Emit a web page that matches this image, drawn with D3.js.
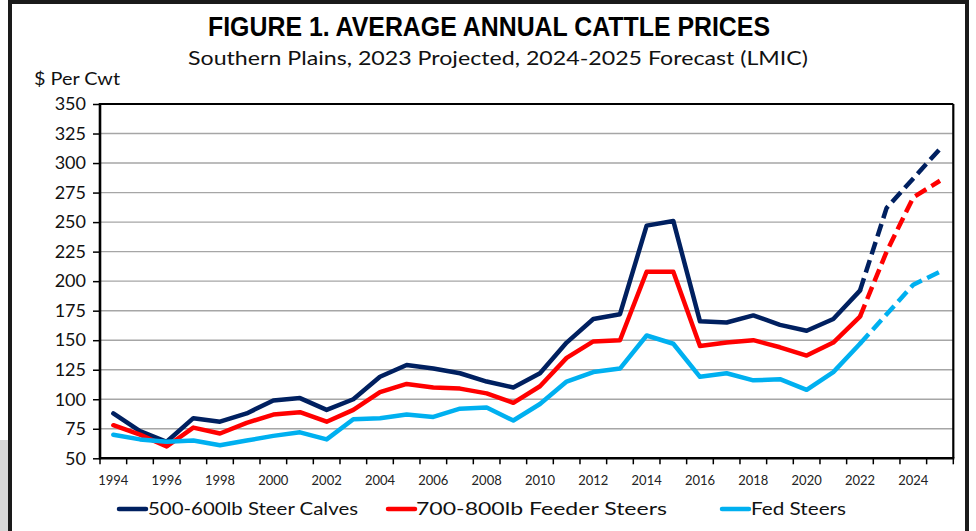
<!DOCTYPE html>
<html>
<head>
<meta charset="utf-8">
<script src="https://cdn.jsdelivr.net/npm/d3@7"></script>
<style>
  html, body { margin: 0; padding: 0; background: #ffffff; }
  svg { display: block; }
</style>
</head>
<body>
<svg id="chart" width="976" height="531"></svg>
<script>
// ---- Data ----
const years = d3.range(1994, 2026);
const steerCalves = [88, 73, 64, 84, 81, 88, 99, 101, 91, 100, 119, 129, 126, 122, 115, 110,
  122, 148, 168, 172, 247, 251, 166, 165, 171, 163, 158, 168, 192, 262, 287, 312];
const feederSteers = [78, 70, 60, 76, 71, 80, 87, 89, 81, 91, 106, 113, 110, 109, 105, 97,
  111, 135, 149, 150, 208, 208, 145, 148, 150, 144, 137, 148, 170, 225, 271, 285];
const fedSteers = [70, 66, 64, 65, 61, 65, 69, 72, 66, 83, 84, 87, 85, 92, 93, 82,
  96, 115, 123, 126, 154, 147, 119, 122, 116, 117, 108, 123, 147, 172, 197, 208];
const lastActualYear = 2022;
const yTicks = [50, 75, 100, 125, 150, 175, 200, 225, 250, 275, 300, 325, 350];
const xLabelYears = years.filter(y => y % 2 === 0);

const seriesNames = ["500-600lb Steer Calves", "700-800lb Feeder Steers", "Fed Steers"];
const seriesValues = [steerCalves, feederSteers, fedSteers];
const seriesColors = ["#002060", "#FF0000", "#00B0F0"];

const titleText = "FIGURE 1. AVERAGE ANNUAL CATTLE PRICES";
const subtitleText = "Southern Plains, 2023 Projected, 2024-2025 Forecast (LMIC)";
const yAxisTitle = "$ Per Cwt";

// ---- Layout ----
const svg = d3.select("#chart");
const plot = { left: 100, right: 953.3, top: 104, bottom: 458.3 };
const font = "Lato, 'Open Sans', sans-serif";

// screenshot frame artefacts
svg.append("rect").attr("x", 0).attr("y", 440).attr("width", 9).attr("height", 91).attr("fill", "#d8d8d8");
svg.append("path")
  .attr("d", "M10,531 V2 H967 V531")
  .attr("fill", "none").attr("stroke", "#1a1a1a").attr("stroke-width", 4);

const x = d3.scaleBand().domain(years).range([plot.left, plot.right]).padding(0);
const y = d3.scaleLinear().domain([50, 350]).range([plot.bottom, plot.top]);

// gridlines
svg.append("g").selectAll("line")
  .data(yTicks.filter(t => t > 50 && t < 350))
  .join("line")
  .attr("x1", plot.left).attr("x2", plot.right)
  .attr("y1", d => y(d)).attr("y2", d => y(d))
  .attr("stroke", "#a6a6a6").attr("stroke-width", 1.4);

// Y axis
const yAxis = svg.append("g")
  .attr("transform", `translate(${plot.left},0)`)
  .call(d3.axisLeft(y).tickValues(yTicks).tickSize(7).tickPadding(7).tickSizeOuter(0));
yAxis.select(".domain").remove();
yAxis.selectAll(".tick line").attr("stroke", "#000").attr("stroke-width", 1.5);
yAxis.selectAll(".tick text")
  .attr("font-family", font).attr("font-size", 18).attr("fill", "#111");

// X axis: ticks at category boundaries
const boundaries = years.map(d => x(d)).concat([plot.right]);
svg.append("g").selectAll("line")
  .data(boundaries)
  .join("line")
  .attr("x1", d => d).attr("x2", d => d)
  .attr("y1", plot.bottom).attr("y2", plot.bottom + 6)
  .attr("stroke", "#000").attr("stroke-width", 1.5);

const xAxis = svg.append("g")
  .attr("transform", `translate(0,${plot.bottom})`)
  .call(d3.axisBottom(x).tickValues(xLabelYears).tickSize(0).tickPadding(17).tickSizeOuter(0));
xAxis.select(".domain").remove();
xAxis.selectAll(".tick text")
  .attr("font-family", font).attr("font-size", 13).attr("fill", "#222");

// plot border
svg.append("line").attr("x1", plot.left).attr("x2", plot.right).attr("y1", plot.top).attr("y2", plot.top)
  .attr("stroke", "#000").attr("stroke-width", 2);
svg.append("line").attr("x1", plot.right).attr("x2", plot.right).attr("y1", plot.top).attr("y2", plot.bottom)
  .attr("stroke", "#000").attr("stroke-width", 2.2);
svg.append("line").attr("x1", plot.left).attr("x2", plot.left).attr("y1", plot.top - 1).attr("y2", plot.bottom + 1)
  .attr("stroke", "#000").attr("stroke-width", 2.6);
svg.append("line").attr("x1", plot.left - 1).attr("x2", plot.right + 1).attr("y1", plot.bottom).attr("y2", plot.bottom)
  .attr("stroke", "#000").attr("stroke-width", 2.6);

// Lines
const lineGen = d3.line()
  .x(d => x(d.year) + x.bandwidth() / 2)
  .y(d => y(d.value));

seriesValues.forEach((vals, i) => {
  const pts = years.map((yr, j) => ({ year: yr, value: vals[j] }));
  const actual = pts.filter(p => p.year <= lastActualYear);
  const forecast = pts.filter(p => p.year >= lastActualYear);
  svg.append("path").datum(actual)
    .attr("d", lineGen)
    .attr("fill", "none").attr("stroke", seriesColors[i])
    .attr("stroke-width", 4.5).attr("stroke-linejoin", "round").attr("stroke-linecap", "round");
  svg.append("path").datum(forecast)
    .attr("d", lineGen)
    .attr("fill", "none").attr("stroke", seriesColors[i])
    .attr("stroke-width", 4.5).attr("stroke-linejoin", "round")
    .attr("stroke-dasharray", "13,6");
});

// Titles
svg.append("text").text(titleText)
  .attr("x", 489).attr("y", 36).attr("text-anchor", "middle")
  .attr("font-family", "'Liberation Sans Narrow', 'Liberation Sans', Arial, sans-serif")
  .attr("font-weight", "bold").attr("font-size", 27).attr("fill", "#000")
  .attr("textLength", 562).attr("lengthAdjust", "spacingAndGlyphs");
svg.append("text").text(subtitleText)
  .attr("x", 498).attr("y", 65).attr("text-anchor", "middle")
  .attr("font-family", font).attr("font-size", 20).attr("fill", "#111")
  .attr("textLength", 620).attr("lengthAdjust", "spacingAndGlyphs");
svg.append("text").text(yAxisTitle)
  .attr("x", 34).attr("y", 85)
  .attr("font-family", font).attr("font-size", 17).attr("fill", "#111")
  .attr("textLength", 86).attr("lengthAdjust", "spacingAndGlyphs");

// Legend
const legendItems = [
  { lx: 119, tx: 148, tw: 210 },
  { lx: 388, tx: 416, tw: 251 },
  { lx: 722, tx: 751, tw: 95 }
];
legendItems.forEach((it, i) => {
  svg.append("line")
    .attr("x1", it.lx).attr("x2", it.lx + 27).attr("y1", 509).attr("y2", 509)
    .attr("stroke", seriesColors[i]).attr("stroke-width", 4.5).attr("stroke-linecap", "round");
  svg.append("text").text(seriesNames[i])
    .attr("x", it.tx).attr("y", 515)
    .attr("font-family", font).attr("font-size", 18).attr("fill", "#111")
    .attr("textLength", it.tw).attr("lengthAdjust", "spacingAndGlyphs");
});
</script>
</body>
</html>
